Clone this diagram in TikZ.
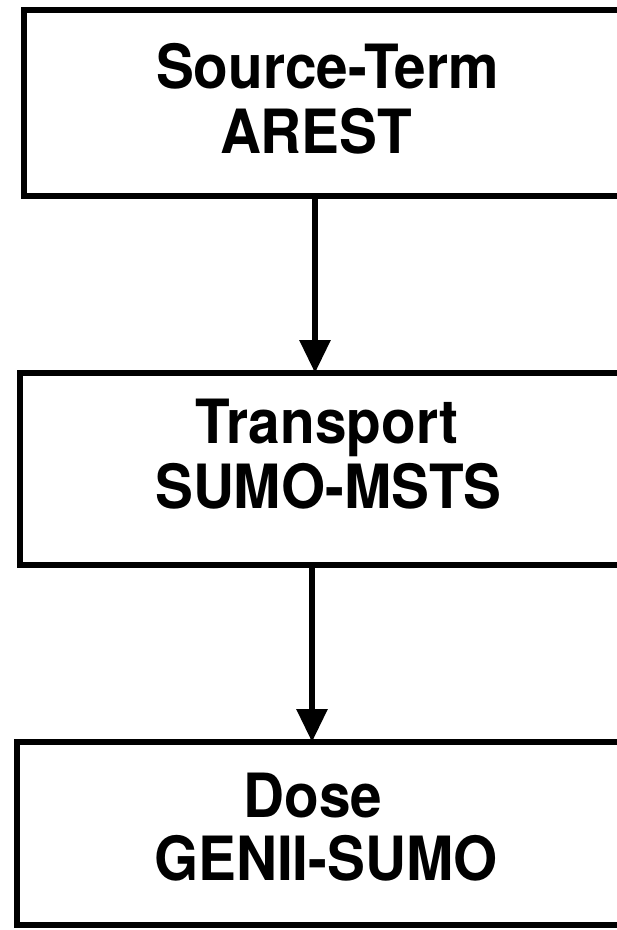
\documentclass[tikz,border=0pt]{standalone}
\usepackage{fontspec}
\setmainfont{TeX Gyre Heros}[FakeStretch=0.93]
\usetikzlibrary{arrows.meta}
\tikzset{
  box/.style={draw=black, line width=6pt, rectangle, inner sep=0pt, outer sep=0pt, anchor=north west},
  lbl/.style={anchor=base, inner sep=0pt, font=\fontsize{61}{61}\selectfont\bfseries},
  arr/.style={line width=6pt, -{Triangle[width=30pt,length=33pt]}}
}
\begin{document}
\begin{tikzpicture}[x=1pt,y=-1pt]
\useasboundingbox (0,0) rectangle (617,930);
\clip (0,0) rectangle (617,930);
\node[box, minimum width=603pt, minimum height=186pt] (b1) at (24,10) {};
\node[box, minimum width=607pt, minimum height=192pt] (b2) at (20,373) {};
\node[box, minimum width=610pt, minimum height=183pt] (b3) at (17,742) {};
\node[lbl] (t1a) at (327.5,88) {Source-Term};
\node[lbl] (t1b) at (316,153) {AREST};
\node[lbl] (t2a) at (327,443) {Transport};
\node[lbl] (t2b) at (328.5,508) {SUMO-MSTS};
\node[lbl] (t3a) at (313,817) {Dose};
\node[lbl] (t3b) at (326,880) {GENII-SUMO};
\coordinate (x1) at (315,0);
\coordinate (x2) at (312,0);
\draw[arr] (b1.south -| x1) -- (b2.north -| x1);
\draw[arr] (b2.south -| x2) -- (b3.north -| x2);
\end{tikzpicture}
\end{document}
